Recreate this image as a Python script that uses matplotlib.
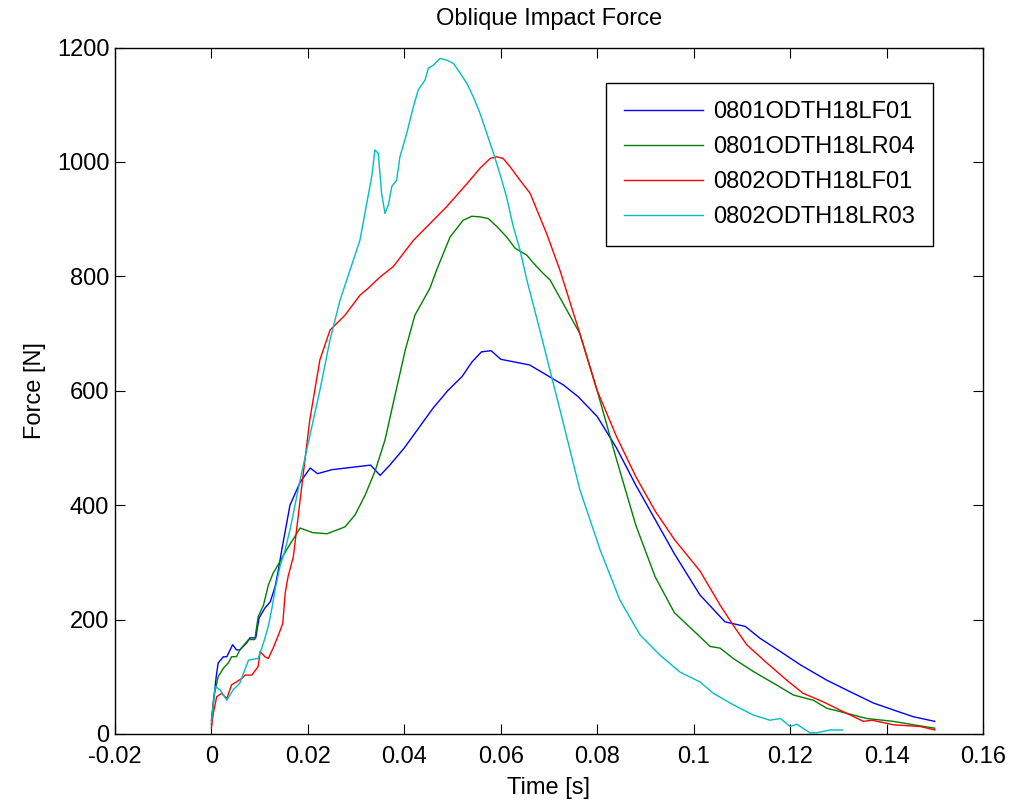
import matplotlib
matplotlib.use("Agg")
import matplotlib.pyplot as plt
from matplotlib.ticker import FuncFormatter, MultipleLocator

# ----------------------------------------------------------------------------
# Values (time in s, force in N)
# ----------------------------------------------------------------------------
LF01_0801_T = [0.0, 0.0004, 0.001, 0.0014, 0.0025, 0.0032, 0.0044, 0.0052, 0.0059,
               0.0073, 0.008, 0.0092, 0.0099, 0.0111, 0.0122, 0.0132, 0.0139, 0.0146,
               0.0163, 0.0184, 0.0205, 0.022, 0.025, 0.028, 0.031, 0.033, 0.035,
               0.037, 0.040, 0.043, 0.046, 0.049, 0.052, 0.054, 0.056, 0.058, 0.060,
               0.063, 0.066, 0.068, 0.070, 0.073, 0.076, 0.080, 0.084, 0.088, 0.092,
               0.096, 0.1013, 0.1065, 0.1107, 0.1138, 0.118, 0.1221, 0.1276, 0.1324,
               0.1373, 0.1414, 0.1456, 0.150]
LF01_0801_F = [24, 54, 100, 124, 135, 135, 156, 147, 147,
               159, 168, 168, 203, 220, 231, 257, 287, 322,
               400, 440, 465, 455, 462, 465, 468, 470, 452,
               470, 500, 535, 570, 600, 625, 650, 668, 670, 655,
               650, 645, 635, 625, 610, 590, 555, 500, 435, 375,
               315, 243, 196, 188, 167, 144, 121, 94, 74,
               54, 42, 30, 22]

LR04_0801_T = [0.0, 0.0005, 0.0014, 0.0025, 0.0035, 0.0042, 0.0052, 0.0059, 0.0077,
               0.009, 0.0097, 0.0108, 0.0118, 0.0128, 0.0142, 0.0156, 0.0184, 0.021,
               0.024, 0.0277, 0.0298, 0.0319, 0.034, 0.036, 0.0381, 0.0402, 0.0422,
               0.0453, 0.0467, 0.0481, 0.0495, 0.0509, 0.0522, 0.054, 0.0557, 0.0574,
               0.0592, 0.0612, 0.063, 0.0654, 0.0668, 0.0688, 0.0702, 0.0764, 0.080,
               0.084, 0.088, 0.092, 0.096, 0.1013, 0.1034, 0.1055, 0.1082, 0.1124,
               0.1165, 0.1207, 0.1248, 0.1276, 0.1318, 0.1359, 0.1414, 0.1456, 0.150]
LR04_0801_F = [16, 65, 100, 115, 124, 135, 135, 147, 165,
               165, 205, 225, 260, 281, 301, 322, 360, 352,
               350, 362, 383, 418, 461, 514, 593, 671, 732,
               779, 811, 840, 869, 884, 898, 905, 904, 901,
               887, 869, 849, 837, 823, 805, 794, 700, 600,
               480, 365, 275, 212, 170, 153, 150, 132, 109,
               89, 68, 59, 45, 36, 27, 22, 16, 10]

LF01_0802_T = [0.0, 0.0004, 0.0011, 0.0021, 0.0032, 0.0042, 0.0052, 0.0063, 0.007,
               0.0084, 0.0097, 0.0101, 0.0111, 0.0118, 0.0128, 0.0139, 0.0148, 0.0153,
               0.0159, 0.017, 0.0184, 0.0204, 0.0225, 0.0246, 0.0277, 0.0308, 0.0325,
               0.035, 0.0377, 0.0419, 0.046, 0.0488, 0.053, 0.0557, 0.0578, 0.0592,
               0.0605, 0.0619, 0.064, 0.0661, 0.0675, 0.0695, 0.0723, 0.0764, 0.080,
               0.084, 0.088, 0.092, 0.096, 0.1013, 0.1055, 0.1082, 0.111, 0.1152,
               0.1193, 0.1227, 0.1269, 0.131, 0.1352, 0.137, 0.1414, 0.147, 0.150]
LF01_0802_F = [10, 36, 65, 71, 62, 86, 91, 97, 103,
               103, 118, 144, 135, 132, 150, 173, 193, 246,
               275, 310, 409, 549, 654, 706, 732, 767, 779,
               799, 817, 863, 898, 922, 962, 989, 1006, 1009,
               1006, 992, 968, 945, 916, 875, 810, 700, 600,
               520, 450, 390, 340, 285, 225, 190, 156, 124,
               94, 71, 56, 39, 22, 24, 16, 13, 7]

LR03_0802_T = [0.0, 0.0008, 0.0018, 0.0032, 0.0045, 0.0059, 0.0077, 0.0097, 0.0108,
               0.0118, 0.0125, 0.0132, 0.0142, 0.0153, 0.0163, 0.0184, 0.0225, 0.0246,
               0.0267, 0.0308, 0.0333, 0.0339, 0.0346, 0.0353, 0.036, 0.0367, 0.0374,
               0.0384, 0.0391, 0.0405, 0.0419, 0.0429, 0.0443, 0.045, 0.046, 0.0474,
               0.0488, 0.0502, 0.0516, 0.053, 0.0543, 0.0557, 0.0571, 0.0585, 0.0598,
               0.0612, 0.0626, 0.064, 0.0654, 0.0681, 0.0723, 0.0764, 0.0806, 0.0847,
               0.0889, 0.093, 0.0972, 0.1013, 0.1041, 0.1082, 0.1124, 0.1158, 0.118,
               0.120, 0.1214, 0.1241, 0.1255, 0.1283, 0.1309]
LR03_0802_F = [20, 83, 77, 59, 77, 89, 129, 132, 159,
               188, 217, 252, 292, 322, 357, 444, 601, 689,
               759, 863, 977, 1021, 1015, 945, 910, 925, 957,
               968, 1009, 1050, 1097, 1126, 1143, 1164, 1169, 1181,
               1178, 1172, 1155, 1137, 1114, 1085, 1050, 1015, 980,
               939, 887, 846, 794, 706, 566, 427, 322, 234,
               173, 138, 108, 91, 71, 51, 33, 24, 27,
               13, 17, 2, 2, 7, 7]

SERIES = [
    ("0801ODTH18LF01", LF01_0801_T, LF01_0801_F, "#0000FF"),
    ("0801ODTH18LR04", LR04_0801_T, LR04_0801_F, "#008000"),
    ("0802ODTH18LF01", LF01_0802_T, LF01_0802_F, "#FF0000"),
    ("0802ODTH18LR03", LR03_0802_T, LR03_0802_F, "#00BFBF"),
]

FS = 17
plt.rcParams.update({
    "font.family": ["Liberation Sans", "DejaVu Sans"],
    "font.size": FS,
    "axes.linewidth": 1.0,
})

fig = plt.figure(figsize=(10.17, 8.11), dpi=100)
ax = fig.add_axes([0.113, 0.095, 0.8536, 0.8464])

for label, t, f, color in SERIES:
    ax.plot(t, f, color=color, linewidth=1.0, label=label)

ax.set_xlim(-0.02, 0.16)
ax.set_ylim(0, 1200)
ax.xaxis.set_major_locator(MultipleLocator(0.02))
ax.yaxis.set_major_locator(MultipleLocator(200))
ax.xaxis.set_major_formatter(FuncFormatter(lambda v, _: f"{round(v, 4):g}"))
ax.tick_params(direction="in", length=7, width=0.8, top=True, right=True,
               labelsize=FS)
ax.tick_params(axis="x", pad=9)
ax.tick_params(axis="y", pad=4)

ax.set_title("Oblique Impact Force", fontsize=FS, pad=16)
ax.set_xlabel("Time [s]", fontsize=FS, labelpad=6)
ax.set_ylabel("Force [N]", fontsize=FS, labelpad=8)

leg = ax.legend(loc="upper right", bbox_to_anchor=(0.9424, 0.948),
                borderaxespad=0, fancybox=False, framealpha=1,
                edgecolor="black", handlelength=3.35, handletextpad=0.45,
                labelspacing=0.55, borderpad=0.75, fontsize=FS)
leg.get_frame().set_linewidth(1.0)

fig.savefig("out.png", dpi=100)
